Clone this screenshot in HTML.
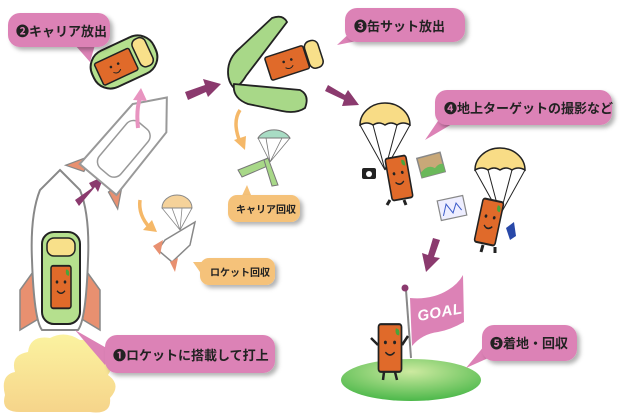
<!DOCTYPE html>
<html><head><meta charset="utf-8"><style>
body{margin:0;background:#fff;}
svg{display:block}
text{font-family:"Liberation Sans","Noto Sans CJK JP",sans-serif;font-weight:bold}
</style></head><body>
<svg width="628" height="415" viewBox="0 0 628 415" xmlns="http://www.w3.org/2000/svg">
<defs>
<linearGradient id="cl" x1="0" y1="0" x2="0" y2="1"><stop offset="0" stop-color="#fbf3a0"/><stop offset="1" stop-color="#f6d48a"/></linearGradient>
<radialGradient id="gr" cx="0.5" cy="0.3" r="0.7"><stop offset="0" stop-color="#cdeaa0"/><stop offset="1" stop-color="#4cb84a"/></radialGradient>
<filter id="sh" x="-10%" y="-10%" width="130%" height="140%"><feDropShadow dx="3" dy="3" stdDeviation="2" flood-color="#000" flood-opacity="0.3"/></filter>
<g id="can"><rect x="-10" y="-17" width="20" height="34" rx="2" fill="#e06a2a" stroke="#222" stroke-width="1.5"/><circle cx="-4" cy="-4" r="1.3" fill="#222"/><circle cx="4" cy="-4" r="1.3" fill="#222"/><path d="M-4 3 Q0 7 4 3" fill="none" stroke="#222" stroke-width="1.2"/><path d="M5 -14 q4 0 3 5 q-4 0 -3 -5z" fill="#4aa43a"/></g>
<g id="chute"><path d="M-25 0 A25 22 0 0 1 25 0 Q18 -4 12 0 Q6 -4 0 0 Q-6 -4 -12 0 Q-18 -4 -25 0z" fill="#f8dc86" stroke="#222" stroke-width="1.5"/><path d="M-25 0 L0 45 M-12 0 L0 45 M12 0 L0 45 M25 0 L0 45" stroke="#222" stroke-width="1" fill="none"/></g>
</defs>

<!-- cloud -->
<path d="M5 395 Q0 375 15 372 Q10 355 28 352 Q30 335 50 338 Q65 330 80 340 Q100 338 98 355 Q118 360 108 375 Q122 385 110 398 Q112 415 90 412 L20 412 Q0 412 5 395z" fill="url(#cl)"/>

<!-- big rocket -->
<path d="M20 330 L20 290 L38 265 L40 318z" fill="#e89070" stroke="#888" stroke-width="1.5"/>
<path d="M100 330 L100 290 L82 265 L80 318z" fill="#e89070" stroke="#888" stroke-width="1.5"/>
<path d="M60 170 L80 190 Q90 215 88 260 Q86 320 78 330 L42 330 Q34 320 32 260 Q30 215 40 190z" fill="#fff" stroke="#888" stroke-width="2"/>
<rect x="42" y="232" width="38" height="92" rx="12" fill="#b5e08e" stroke="#222" stroke-width="2"/>
<rect x="47" y="238" width="28" height="18" rx="7" fill="#f8e08a" stroke="#222" stroke-width="1.5"/>
<use href="#can" transform="translate(61,287) scale(1,1.25)"/>

<!-- arrow 1 -->
<path d="M75 200 L92 188 L89 183 L104 176 L98 192 L95 187 L79 206z" fill="#8b3a6e"/>

<!-- mid rocket -->
<g transform="translate(127,145) rotate(40)">
<path d="M-20 30 L-34 55 L-16 48z" fill="#e89070" stroke="#888" stroke-width="1.2"/>
<path d="M20 30 L34 55 L16 48z" fill="#e89070" stroke="#888" stroke-width="1.2"/>
<path d="M0 -62 L22 -35 L24 45 L-24 45 L-22 -35z" fill="#fff" stroke="#999" stroke-width="2"/>
<rect x="-14" y="-25" width="28" height="60" rx="9" fill="#fff" stroke="#999" stroke-width="1.5"/>
</g>
<path d="M138 128 Q136 110 140 98" fill="none" stroke="#e894c0" stroke-width="4"/>
<path d="M133 100 L141 88 L147 101z" fill="#e894c0"/>

<!-- carrier top -->
<g transform="translate(124,62) rotate(-25)">
<rect x="-34" y="-20" width="68" height="40" rx="18" fill="#b5e08e" stroke="#222" stroke-width="2"/>
<rect x="-28" y="-11" width="38" height="24" rx="2" fill="#e06a2a" stroke="#222" stroke-width="1.5"/>
<rect x="14" y="-16" width="14" height="30" rx="6" fill="#f8e08a" stroke="#222" stroke-width="1.5"/>
<circle cx="-14" cy="-1" r="1.3" fill="#222"/><circle cx="-6" cy="-1" r="1.3" fill="#222"/><path d="M-14 5 Q-10 9 -6 5" stroke="#222" fill="none"/>
</g>

<!-- bubble 2 -->
<path d="M75 45 L90 62 L95 45z" fill="#dc82b6"/>
<rect x="8" y="13" width="102" height="34" rx="12" fill="#dc82b6" filter="url(#sh)"/>
<text x="16" y="36" font-size="13" fill="#222">❷キャリア放出</text>

<!-- arrow 2 -->
<path d="M185 92 L205 85 L203 79 L221 84 L208 97 L206 92 L188 100z" fill="#8b3a6e"/>

<!-- open carrier -->
<path d="M228 72 Q228 58 240 48 L272 18 Q283 14 287 22 L246 76 Q240 86 234 88 Q228 82 228 72z" fill="#a8d888" stroke="#222" stroke-width="1.8"/>
<path d="M234 84 L300 90 Q310 95 305 108 Q296 114 282 111 L248 104 Q232 98 234 84z" fill="#a8d888" stroke="#222" stroke-width="1.8"/>
<g transform="translate(290,62) rotate(-18)">
<rect x="-23" y="-12" width="40" height="24" rx="2" fill="#e06a2a" stroke="#222" stroke-width="1.5"/>
<rect x="18" y="-14" width="14" height="28" rx="6" fill="#f8e08a" stroke="#222" stroke-width="1.5"/>
<circle cx="-6" cy="-2" r="1.3" fill="#222"/><circle cx="2" cy="-2" r="1.3" fill="#222"/><path d="M-6 4 Q-2 8 2 4" stroke="#222" fill="none"/>
</g>

<!-- bubble 3 -->
<path d="M337 45 L355 28 L362 40z" fill="#dc82b6"/>
<rect x="345" y="8" width="120" height="34" rx="12" fill="#dc82b6" filter="url(#sh)"/>
<text x="354" y="31" font-size="13" fill="#222">❸缶サット放出</text>

<!-- arrow 3 -->
<path d="M328 85 L345 95 L348 90 L359 105 L342 106 L344 100 L325 91z" fill="#8b3a6e"/>

<!-- carrier recovery -->
<path d="M240 110 Q232 122 240 142" fill="none" stroke="#f5b868" stroke-width="3.5"/>
<path d="M234 140 L245 150 L246 136z" fill="#f5b868"/>
<path d="M258 138 A18 15 0 0 1 290 138z" fill="#a8dcc4" stroke="#777" stroke-width="1"/>
<path d="M258 138 L270 162 M266 138 L270 162 M282 138 L270 162 M290 138 L270 162" stroke="#777" stroke-width="0.8"/>
<path d="M238 170 L268 158 L270 165 L242 177z" fill="#a8d888" stroke="#777" stroke-width="1"/>
<path d="M268 158 L278 185 L272 186 L264 160z" fill="#a8d888" stroke="#777" stroke-width="1"/>
<path d="M247 185 L255 205 L240 200z" fill="#f5c27a"/>
<rect x="228" y="195" width="72" height="27" rx="9" fill="#f5c27a" filter="url(#sh)"/>
<text x="236" y="213" font-size="10" fill="#222">キャリア回収</text>

<!-- rocket recovery -->
<path d="M140 200 Q138 215 150 228" fill="none" stroke="#f5b868" stroke-width="3.5"/>
<path d="M143 230 L157 232 L152 220z" fill="#f5b868"/>
<path d="M162 208 A15 13 0 0 1 192 208z" fill="#f5d29a" stroke="#888" stroke-width="1"/>
<path d="M162 208 L180 230 M172 208 L180 230 M182 208 L180 230 M192 208 L180 230" stroke="#888" stroke-width="0.8"/>
<path d="M165 240 L195 222 L190 245 L172 262 L158 250z" fill="#fff" stroke="#888" stroke-width="1.5"/>
<path d="M153 246 L163 240 L160 255z" fill="#e89070"/>
<path d="M170 262 L178 258 L175 272z" fill="#e89070"/>
<path d="M193 262 L200 272 L208 262z" fill="#f5c27a"/>
<rect x="200" y="258" width="75" height="27" rx="9" fill="#f5c27a" filter="url(#sh)"/>
<text x="210" y="276" font-size="10" fill="#222">ロケット回収</text>

<!-- bubble 4 -->
<path d="M425 140 L440 118 L452 124z" fill="#dc82b6"/>
<rect x="435" y="90" width="177" height="35" rx="12" fill="#dc82b6" filter="url(#sh)"/>
<text x="444" y="113" font-size="13" fill="#222">❹地上ターゲットの撮影など</text>

<!-- parachuter 1 -->
<use href="#chute" transform="translate(385,125)"/>
<use href="#can" transform="translate(399,178) rotate(-10) scale(1.05,1.25)"/>
<rect x="362" y="168" width="14" height="11" rx="2" fill="#222"/><circle cx="369" cy="174" r="3" fill="#fff"/>
<path d="M390 200 L387 205 M404 200 L406 205" stroke="#222" stroke-width="3"/>
<g transform="translate(431,165) rotate(-15)"><rect x="-12" y="-10" width="24" height="20" fill="#c8a878" stroke="#888" stroke-width="1.5"/><path d="M-12 5 Q-3 -2 3 4 Q8 0 12 2 L12 10 L-12 10z" fill="#6ab85a"/></g>
<!-- parachuter 2 -->
<use href="#chute" transform="translate(500,170)"/>
<use href="#can" transform="translate(489,222) rotate(12) scale(1.05,1.3)"/>
<path d="M483 245 L481 252 M495 247 L495 253" stroke="#222" stroke-width="3"/>
<g transform="translate(452,208) rotate(-12)"><rect x="-13" y="-10" width="26" height="20" fill="#eef" stroke="#888" stroke-width="1.2"/><path d="M-10 6 L-5 -5 L0 5 L5 -4 L9 4" stroke="#3a5ac8" fill="none"/></g>
<path d="M506 228 L514 222 L516 236 L510 240z" fill="#2848a8"/>

<!-- arrow 4 -->
<path d="M433 238 L428 255 L422 253 L426 272 L440 258 L434 257 L440 240z" fill="#8b3a6e"/>

<!-- ground -->
<ellipse cx="411" cy="380" rx="70" ry="21" fill="url(#gr)"/>
<line x1="406" y1="290" x2="411" y2="358" stroke="#888" stroke-width="2"/>
<circle cx="405" cy="288" r="3.5" fill="#8b3a6e"/>
<path d="M410 298 Q432 300 448 290 Q458 284 463 275 L464 322 Q450 330 438 332 Q422 334 412 346z" fill="#dc82b6"/>
<text x="417" y="318" font-size="15" fill="#fff" font-style="italic" letter-spacing="0.5" transform="rotate(-10 435 312)">GOAL</text>
<use href="#can" transform="translate(390,348) scale(1.15,1.4)"/>
<path d="M378 345 L371 338 M402 345 L408 336 M384 372 L383 380 M395 372 L397 380" stroke="#222" stroke-width="2.5"/>

<!-- bubble 5 -->
<path d="M466 368 L485 345 L495 355z" fill="#dc82b6"/>
<rect x="482" y="325" width="95" height="36" rx="12" fill="#dc82b6" filter="url(#sh)"/>
<text x="490" y="348" font-size="13" fill="#222">❺着地・回収</text>

<!-- bubble 1 -->
<path d="M75 330 L110 350 L105 365z" fill="#dc82b6"/>
<rect x="105" y="335" width="170" height="38" rx="12" fill="#dc82b6" filter="url(#sh)"/>
<text x="113" y="360" font-size="13" fill="#222">❶ロケットに搭載して打上</text>
</svg>
</body></html>
